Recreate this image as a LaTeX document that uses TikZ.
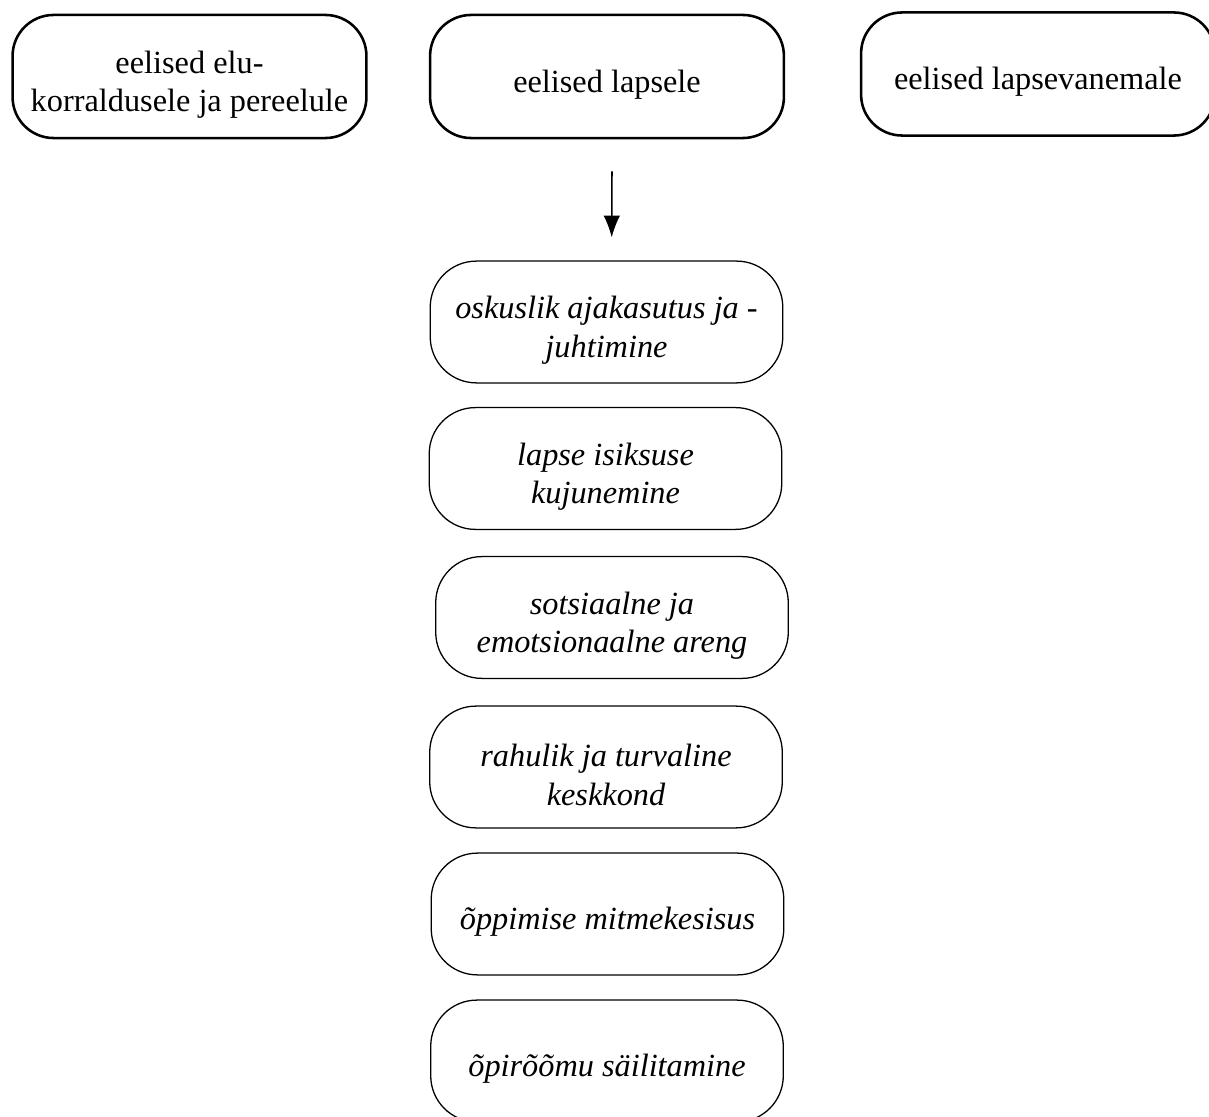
\documentclass[tikz,border=0pt]{standalone}
\usepackage{fontspec}
\setmainfont{Liberation Serif}
\usetikzlibrary{arrows.meta}
\tikzset{
  topbox/.style={draw, line width=1pt, rounded corners=16pt, minimum width=138pt, minimum height=48pt, align=center, font=\fontsize{12.6}{15}\selectfont, execute at begin node={\rule{0pt}{15pt}}},
  subbox/.style={draw, line width=0.5pt, rounded corners=18pt, minimum width=137.5pt, minimum height=47.5pt, align=center, font=\fontsize{12.6}{15}\selectfont\itshape, execute at begin node={\rule{0pt}{15pt}}},
  twoline/.style={execute at begin node={\rule{0pt}{30pt}}},
}
\begin{document}
\begin{tikzpicture}[x=0.39pt, y=-0.39pt]
        \useasboundingbox (0,0) rectangle (1209,1117);
        \clip (0,0) rectangle (1209,1117);
        % top row
        \node [topbox, twoline] (elukorraldus) at (189.5,76.5) {eelised elu-\\korraldusele ja pereelule};
        \node [topbox] (lapsele) at (607,76.5) {eelised lapsele};
        \node [topbox] (vanemale) at (1038,74) {eelised lapsevanemale};
        % column of advantages
        \node [subbox, twoline] (oskus) at (606.5,322) {oskuslik ajakasutus ja -\\juhtimine};
        \node [subbox, twoline] (isiksus) at (605.5,468.5) {lapse isiksuse\\kujunemine};
        \node [subbox, twoline] (areng) at (612,617.5) {sotsiaalne ja\\emotsionaalne areng};
        \node [subbox, twoline] (keskkond) at (606,767) {rahulik ja turvaline\\keskkond};
        \node [subbox] (oppimine) at (607.5,914) {õppimise mitmekesisus};
        \node [subbox] (pirom) at (607,1061) {õpirõõmu säilitamine};
        \draw [-{Latex[length=8.5pt,width=6.5pt]}, line width=0.6pt, shorten <=12.5pt, shorten >=9pt] ([xshift=2pt]lapsele.south) -- ([xshift=2pt]oskus.north);
      \end{tikzpicture}
\end{document}
